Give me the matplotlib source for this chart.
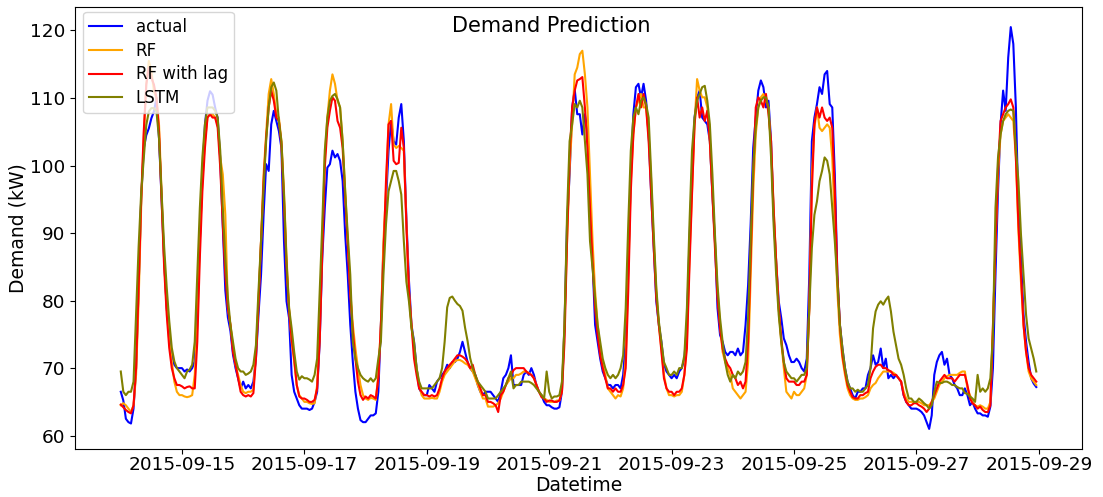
import pandas as pd
import matplotlib
matplotlib.use("Agg")
from matplotlib import pyplot as plt
import matplotlib.dates as mdates

# hourly readings, 2015-09-14 00:00 .. 2015-09-28 23:00 (one row per day)
actual = [
    66.5, 65.2, 62.5, 62.0, 61.8, 64.0, 70.0, 82.0, 95.0, 102.5, 104.5, 105.5, 107.0, 108.0, 110.0, 104.0, 95.0, 86.0, 79.0, 75.0, 72.0, 70.5, 70.0, 70.0,
    70.0, 69.5, 69.8, 69.5, 70.0, 71.0, 79.0, 88.8, 98.7, 106.0, 109.6, 111.0, 110.5, 108.6, 107.0, 101.0, 91.0, 81.5, 77.5, 75.5, 72.0, 70.0, 68.5, 67.0,
    68.0, 67.0, 67.5, 67.0, 68.0, 71.4, 77.9, 83.8, 92.7, 100.2, 99.2, 106.1, 108.1, 106.6, 105.1, 102.6, 88.8, 79.9, 77.4, 69.0, 66.5, 65.5, 64.5, 64.0,
    64.0, 64.0, 63.8, 64.0, 65.0, 66.5, 73.9, 86.3, 93.7, 99.7, 100.2, 102.2, 101.2, 101.7, 100.7, 97.7, 89.8, 83.8, 76.4, 70.9, 66.5, 64.0, 62.3, 62.0,
    62.0, 62.5, 63.0, 63.0, 63.3, 66.5, 76.4, 87.8, 94.7, 102.2, 106.6, 103.6, 103.1, 107.1, 109.1, 103.6, 92.0, 83.0, 76.4, 73.9, 70.0, 67.0, 66.3, 66.0,
    66.0, 67.5, 67.0, 66.5, 68.0, 68.5, 69.0, 69.5, 70.5, 70.0, 70.9, 70.9, 71.4, 72.4, 73.9, 72.4, 70.9, 70.0, 69.5, 69.0, 67.5, 66.5, 66.0, 66.5,
    66.5, 66.5, 66.0, 65.5, 65.0, 66.5, 68.5, 69.0, 70.0, 71.9, 67.5, 67.5, 67.5, 67.5, 69.0, 69.5, 69.0, 70.0, 69.0, 67.5, 66.5, 66.0, 65.0, 64.5,
    64.5, 64.2, 64.0, 64.0, 64.2, 66.5, 76.4, 91.3, 98.7, 108.6, 111.3, 107.6, 107.6, 104.6, 107.6, 105.1, 93.7, 85.8, 76.4, 73.9, 71.4, 69.5, 68.5, 67.5,
    67.5, 67.0, 67.5, 67.5, 67.0, 69.0, 73.9, 84.8, 98.7, 107.6, 111.6, 112.1, 110.1, 112.1, 109.6, 104.6, 95.7, 87.8, 79.9, 76.4, 73.9, 70.5, 69.5, 69.0,
    68.5, 69.0, 68.5, 69.5, 70.0, 71.4, 76.4, 88.8, 98.7, 107.1, 110.1, 111.1, 107.1, 106.6, 106.1, 103.6, 95.7, 88.8, 78.9, 74.9, 73.9, 72.4, 71.9, 72.4,
    72.4, 71.9, 72.9, 71.9, 72.4, 76.4, 82.3, 91.3, 102.6, 107.1, 111.1, 112.6, 111.6, 108.6, 109.6, 103.6, 92.7, 85.8, 79.9, 77.4, 74.4, 73.4, 71.9, 70.9,
    70.9, 71.4, 70.9, 70.0, 69.5, 71.4, 83.8, 103.6, 107.1, 109.1, 111.6, 110.6, 113.5, 114.0, 109.1, 108.6, 98.7, 83.8, 76.4, 72.9, 70.0, 68.0, 67.0, 66.0,
    65.5, 66.5, 66.5, 67.0, 67.0, 69.0, 70.0, 71.9, 70.5, 70.9, 72.9, 70.0, 71.4, 68.5, 69.0, 68.5, 69.0, 68.5, 68.0, 66.0, 65.0, 64.5, 64.0, 64.0,
    64.0, 63.8, 63.5, 63.0, 62.0, 61.0, 63.0, 69.0, 70.9, 71.9, 72.4, 70.5, 71.4, 69.0, 68.5, 67.5, 67.0, 66.0, 66.0, 67.0, 66.0, 64.5, 65.0, 64.0,
    63.3, 63.3, 63.0, 63.0, 62.8, 64.3, 70.0, 83.8, 96.2, 106.1, 111.1, 108.1, 116.0, 120.5, 118.0, 108.6, 93.7, 86.3, 77.9, 73.9, 70.9, 68.5, 67.7, 67.2,
]

rf = [
    64.5, 64.8, 64.5, 64.0, 63.5, 64.5, 69.0, 80.0, 94.0, 104.0, 112.0, 115.5, 114.0, 111.0, 110.0, 106.0, 96.0, 86.0, 79.0, 74.0, 71.0, 68.0, 66.5, 66.0,
    66.0, 65.8, 65.7, 65.8, 66.0, 69.0, 76.4, 88.8, 97.7, 103.6, 107.1, 107.6, 107.6, 107.1, 106.1, 101.2, 98.7, 92.7, 78.9, 76.4, 73.0, 70.5, 69.0, 67.5,
    66.5, 66.3, 66.5, 66.5, 66.8, 72.4, 79.9, 88.8, 98.7, 104.6, 110.6, 112.8, 110.6, 107.6, 107.1, 103.6, 96.2, 86.3, 78.9, 73.9, 70.9, 67.5, 66.0, 65.5,
    65.0, 65.0, 64.8, 64.7, 64.8, 67.5, 74.9, 88.8, 101.2, 107.1, 111.1, 113.5, 112.1, 109.6, 108.6, 103.6, 96.2, 88.8, 81.4, 76.4, 72.9, 70.0, 67.5, 66.0,
    65.5, 65.3, 65.6, 65.5, 65.3, 69.0, 76.4, 88.8, 96.2, 106.1, 109.1, 103.1, 102.6, 102.9, 102.6, 102.2, 91.3, 81.4, 76.4, 72.9, 70.0, 67.5, 66.0, 65.5,
    65.5, 65.5, 65.6, 65.5, 65.5, 66.5, 68.0, 69.0, 69.5, 70.0, 70.5, 71.0, 71.2, 71.2, 71.0, 70.7, 70.5, 70.0, 69.5, 68.5, 67.5, 66.5, 65.5, 65.5,
    64.3, 64.3, 64.3, 64.5, 64.8, 65.5, 66.5, 67.5, 68.0, 68.5, 68.5, 69.0, 69.0, 69.2, 69.5, 69.5, 69.3, 69.0, 68.5, 67.5, 66.5, 66.0, 65.5, 65.3,
    65.0, 65.0, 65.0, 65.2, 65.2, 66.5, 76.4, 88.8, 99.7, 106.1, 113.5, 114.5, 116.5, 117.0, 113.5, 108.6, 98.7, 88.8, 81.4, 76.4, 72.9, 70.5, 69.0, 67.0,
    66.5, 66.0, 65.5, 66.0, 65.8, 67.0, 71.4, 83.8, 97.7, 104.6, 108.6, 109.6, 110.6, 108.6, 108.6, 104.6, 97.7, 88.8, 81.4, 76.4, 72.9, 69.0, 67.0, 66.0,
    66.0, 65.8, 66.0, 66.0, 66.5, 69.0, 73.9, 86.3, 96.2, 106.1, 112.8, 111.1, 110.1, 110.1, 108.6, 103.6, 96.2, 88.8, 81.4, 76.4, 72.4, 70.9, 70.0, 69.0,
    67.0, 66.5, 66.0, 65.5, 66.0, 66.5, 70.9, 83.8, 96.2, 104.6, 108.6, 110.1, 110.6, 109.6, 108.6, 102.6, 93.7, 85.8, 78.9, 73.9, 70.0, 66.5, 66.0, 65.5,
    66.5, 66.0, 66.0, 66.5, 67.0, 69.0, 78.9, 98.7, 105.6, 108.6, 105.6, 105.1, 105.6, 106.1, 105.6, 101.2, 91.3, 81.4, 74.9, 71.4, 69.0, 67.0, 66.0, 65.5,
    65.3, 65.3, 65.5, 65.5, 65.7, 66.0, 67.0, 67.5, 67.8, 68.5, 69.0, 69.5, 69.5, 69.5, 69.5, 69.3, 69.0, 68.5, 68.0, 66.5, 65.5, 65.0, 65.0, 65.0,
    65.0, 65.0, 64.8, 64.5, 64.5, 64.5, 65.0, 65.5, 66.5, 67.5, 68.0, 68.5, 68.8, 69.0, 69.0, 69.0, 69.0, 69.3, 69.5, 69.5, 67.0, 66.0, 65.0, 64.5,
    64.3, 64.5, 64.3, 64.0, 64.0, 65.0, 75.9, 88.3, 98.7, 104.6, 106.6, 107.1, 107.6, 107.1, 106.6, 101.2, 90.3, 82.8, 76.4, 72.4, 69.5, 68.5, 68.0, 67.5,
]

rf_lag = [
    64.6, 64.2, 63.8, 63.5, 63.3, 64.5, 70.0, 82.0, 95.0, 105.0, 112.0, 114.5, 113.0, 112.0, 110.0, 105.0, 95.0, 85.0, 78.0, 73.0, 70.0, 68.5, 67.5, 67.5,
    67.3, 67.0, 67.2, 67.3, 67.0, 67.0, 73.9, 86.3, 96.2, 102.6, 107.1, 107.6, 107.1, 107.1, 105.6, 99.7, 91.3, 83.8, 78.9, 76.4, 72.4, 70.5, 68.5, 66.5,
    66.0, 65.8, 66.0, 65.8, 66.3, 71.4, 79.4, 88.8, 97.7, 104.1, 108.6, 111.1, 109.6, 107.1, 106.6, 103.1, 94.7, 84.8, 78.4, 74.4, 71.4, 67.5, 65.8, 65.5,
    65.5, 65.3, 65.0, 65.0, 65.3, 67.0, 74.0, 87.0, 99.7, 105.6, 108.1, 110.1, 109.6, 106.6, 105.6, 102.6, 95.2, 88.3, 80.9, 75.4, 71.4, 68.0, 66.0, 65.3,
    65.8, 65.5, 66.0, 65.8, 65.5, 68.5, 76.4, 86.3, 97.7, 106.1, 106.6, 100.7, 100.2, 100.4, 105.6, 102.6, 91.3, 81.4, 76.4, 71.4, 69.0, 67.0, 66.5, 66.0,
    66.0, 65.8, 66.0, 65.8, 66.0, 67.0, 68.5, 69.5, 70.0, 70.5, 70.9, 71.4, 71.9, 71.9, 71.7, 71.4, 70.9, 70.0, 70.5, 69.0, 68.0, 67.0, 66.0, 66.0,
    65.0, 65.0, 64.8, 64.5, 63.5, 66.0, 66.5, 67.5, 68.5, 69.0, 69.7, 70.0, 70.0, 70.0, 70.0, 69.5, 69.2, 69.0, 68.5, 67.5, 66.5, 65.7, 65.5, 65.0,
    65.2, 65.2, 65.0, 65.0, 65.2, 66.5, 73.9, 88.8, 101.2, 108.6, 111.1, 112.6, 112.8, 113.1, 108.6, 102.6, 93.7, 85.8, 78.9, 74.9, 71.9, 70.0, 68.5, 67.0,
    67.0, 66.5, 67.0, 66.5, 66.5, 67.5, 70.0, 81.4, 96.2, 104.6, 108.6, 110.6, 108.6, 110.6, 108.6, 103.6, 95.7, 87.8, 80.4, 76.4, 72.4, 68.5, 67.0, 66.5,
    66.5, 66.0, 66.5, 66.5, 67.0, 69.0, 72.9, 84.8, 95.7, 106.1, 110.1, 107.1, 108.6, 106.6, 108.1, 103.6, 95.7, 87.8, 80.4, 75.9, 72.9, 71.4, 70.5, 70.0,
    69.0, 68.5, 67.5, 68.0, 67.0, 68.0, 73.9, 86.3, 98.7, 108.6, 110.1, 109.6, 108.6, 110.6, 107.6, 103.6, 93.7, 85.8, 78.9, 74.4, 70.9, 68.5, 68.0, 68.0,
    68.0, 67.5, 67.5, 68.0, 68.0, 69.0, 78.9, 96.2, 106.1, 108.6, 107.1, 108.6, 107.1, 106.6, 107.1, 105.6, 96.2, 83.8, 76.4, 71.9, 69.5, 67.5, 66.5, 65.7,
    65.5, 65.5, 66.0, 66.0, 66.3, 66.5, 68.5, 69.5, 70.2, 70.5, 70.5, 70.0, 70.0, 69.7, 69.5, 69.0, 69.0, 68.5, 68.0, 66.0, 65.0, 64.5, 64.5, 64.8,
    64.8, 64.5, 64.3, 64.0, 63.5, 64.0, 65.0, 66.0, 67.0, 68.0, 68.5, 69.0, 68.5, 68.5, 68.5, 68.0, 68.5, 69.0, 69.0, 69.0, 67.5, 65.5, 64.8, 64.5,
    64.0, 64.3, 63.8, 63.5, 63.5, 64.5, 76.4, 88.8, 99.7, 106.6, 107.6, 108.6, 109.1, 109.8, 108.6, 101.2, 91.3, 83.8, 76.4, 72.4, 70.0, 69.0, 68.5, 68.0,
]

lstm = [
    69.5, 66.5, 66.0, 66.5, 66.5, 68.0, 78.0, 88.0, 96.0, 101.0, 106.0, 108.0, 108.5, 108.5, 108.0, 104.0, 96.0, 88.0, 82.0, 77.0, 73.0, 71.0, 70.0, 69.5,
    69.0, 68.5, 69.5, 69.8, 70.5, 73.9, 83.8, 93.7, 101.2, 106.1, 108.6, 108.6, 108.6, 108.1, 107.1, 102.2, 93.7, 86.3, 80.4, 76.4, 73.9, 71.4, 70.0, 69.5,
    69.5, 69.0, 69.2, 69.5, 70.5, 73.4, 81.4, 88.8, 96.7, 103.6, 108.6, 111.6, 112.3, 111.1, 106.6, 103.6, 95.7, 85.8, 78.9, 75.9, 72.4, 69.5, 68.3, 68.8,
    68.5, 68.5, 68.3, 68.0, 69.0, 71.4, 81.4, 91.2, 102.2, 107.1, 109.6, 110.3, 110.6, 109.8, 108.6, 103.6, 96.2, 89.8, 83.8, 73.9, 71.4, 70.0, 69.0, 68.5,
    68.2, 68.0, 68.5, 68.0, 68.5, 71.4, 73.9, 83.8, 91.3, 96.2, 97.7, 99.2, 99.2, 97.7, 95.7, 88.8, 82.8, 79.9, 75.9, 73.9, 70.0, 68.0, 67.0, 67.0,
    67.0, 67.0, 67.0, 67.5, 68.0, 68.5, 70.0, 73.9, 79.0, 80.4, 80.6, 80.0, 79.5, 79.2, 78.5, 76.0, 74.0, 71.5, 70.0, 69.0, 68.0, 67.5, 67.0, 66.5,
    65.5, 65.5, 65.5, 65.5, 66.0, 66.5, 67.0, 67.5, 68.5, 69.5, 67.0, 67.5, 67.5, 68.0, 68.0, 68.0, 68.0, 67.8, 67.5, 67.0, 66.5, 66.0, 65.5, 69.5,
    66.5, 65.5, 65.8, 65.8, 66.0, 68.0, 76.4, 92.7, 103.6, 106.1, 109.1, 108.6, 109.6, 108.6, 103.6, 98.7, 88.8, 84.8, 80.4, 76.4, 73.9, 71.4, 70.0, 69.0,
    68.5, 69.0, 68.5, 69.0, 70.0, 71.9, 78.9, 91.3, 102.2, 107.1, 108.6, 107.6, 109.6, 110.1, 109.1, 107.1, 98.7, 89.8, 81.9, 76.9, 73.9, 70.9, 70.0, 69.0,
    69.0, 69.5, 69.0, 70.0, 70.0, 71.9, 78.9, 91.3, 102.2, 107.1, 109.6, 110.6, 111.6, 111.8, 109.6, 106.1, 98.7, 89.8, 82.3, 77.4, 73.9, 70.9, 69.0, 68.0,
    69.0, 68.5, 69.5, 69.0, 69.5, 70.9, 77.4, 88.8, 99.7, 105.6, 108.6, 109.6, 110.1, 110.1, 108.6, 101.2, 91.3, 83.8, 77.9, 73.9, 70.9, 69.5, 69.0, 68.5,
    68.5, 68.0, 68.5, 69.0, 69.0, 70.0, 78.9, 87.8, 92.7, 94.7, 97.7, 99.2, 101.2, 100.7, 98.7, 93.7, 88.8, 82.8, 76.4, 72.9, 70.0, 68.0, 67.0, 67.0,
    66.5, 66.8, 66.5, 66.5, 67.0, 67.5, 70.0, 75.9, 78.4, 79.4, 79.9, 79.4, 80.1, 80.6, 78.4, 75.4, 73.4, 71.4, 70.5, 69.0, 67.0, 65.5, 65.5, 65.0,
    65.0, 65.5, 65.2, 64.8, 64.5, 64.0, 64.5, 66.5, 68.0, 67.8, 67.8, 68.0, 68.0, 67.8, 67.5, 67.5, 67.2, 67.0, 67.0, 66.3, 66.2, 65.8, 65.5, 65.0,
    69.0, 66.5, 67.0, 66.5, 67.0, 68.5, 74.9, 93.7, 101.2, 104.6, 106.6, 107.6, 108.1, 108.3, 108.1, 102.6, 97.7, 89.8, 83.8, 77.9, 74.4, 72.9, 71.4, 69.5,
]

labels = ['actual', 'RF', 'RF with lag', 'LSTM']
colors = ['blue', 'orange', 'red', 'olive']
tick_days = ['2015-09-15', '2015-09-17', '2015-09-19', '2015-09-21',
             '2015-09-23', '2015-09-25', '2015-09-27', '2015-09-29']

times = pd.date_range('2015-09-14 00:00', periods=len(actual), freq='h')

fig = plt.figure(figsize=(11.03, 4.97), dpi=100)
ax = fig.add_axes([0.068, 0.0966, 0.913, 0.8893])
for series, lab, col in zip([actual, rf, rf_lag, lstm], labels, colors):
    ax.plot(times, series, color=col, label=lab, linewidth=1.5)

ax.set_xticks(pd.to_datetime(tick_days))
ax.xaxis.set_major_formatter(mdates.DateFormatter('%Y-%m-%d'))
ax.tick_params(labelsize=13.3)
ax.tick_params(axis='x', pad=1.5)
ax.set_xlabel('Datetime', fontsize=13.5, labelpad=1.3)
ax.set_ylabel('Demand (kW)', fontsize=13.5, labelpad=2)
ax.legend(loc='upper left', fontsize=12, bbox_to_anchor=(0.0082, 0.989),
          borderaxespad=0, borderpad=0.35, labelspacing=0.35)
fig.text(0.5, 0.935, 'Demand Prediction', ha='center', va='baseline', fontsize=15)

plt.savefig('out.png')
